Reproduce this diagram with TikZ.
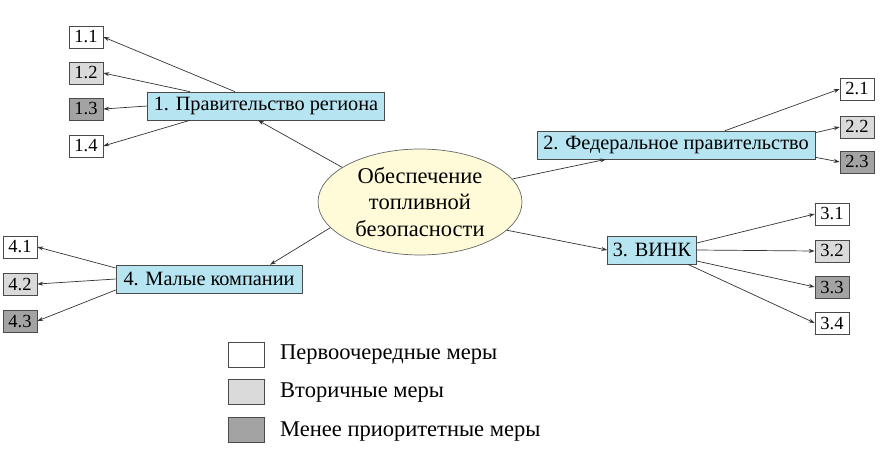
\documentclass[tikz,border=0pt]{standalone}
\usepackage{fontspec}
\setmainfont{Liberation Serif}
\usetikzlibrary{arrows.meta,calc,shapes.geometric}
\definecolor{bluefill}{HTML}{B6E4F1}
\definecolor{ellfill}{HTML}{FFFBD9}
\definecolor{lightg}{HTML}{DADADA}
\definecolor{darkg}{HTML}{A3A3A3}
\definecolor{edge}{HTML}{4A4A4A}
\definecolor{lineC}{HTML}{333333}
\tikzset{
  mainbox/.style={draw=edge, line width=0.6pt, fill=bluefill, inner sep=0pt, minimum height=28pt, font=\fontsize{20.3}{24}\selectfont},
  smallbox/.style={draw=edge, line width=0.6pt, inner sep=0pt, minimum width=34pt, minimum height=22pt, font=\fontsize{18.5}{20}\selectfont},
  legbox/.style={draw=edge, line width=0.6pt, inner sep=0pt, minimum width=36pt, minimum height=25pt},
  legtext/.style={anchor=west, inner sep=0pt, font=\fontsize{22.5}{26}\selectfont},
  conn/.style={draw=lineC, line width=0.7pt, -{Stealth[length=6pt,width=4pt]}},
  prio1/.style={fill=white},
  prio2/.style={fill=lightg},
  prio3/.style={fill=darkg}
}
\begin{document}
\begin{tikzpicture}[x=1pt,y=-1pt]
\useasboundingbox (0,0) rectangle (882,450);
% centre
\node[ellipse, draw=black!60, line width=0.7pt, fill=ellfill, minimum width=204pt, minimum height=106pt, inner sep=0pt, align=center, font=\fontsize{22.5}{26.5}\selectfont] (e) at (420,202) {Обеспечение\\топливной\\безопасности};
% main boxes
\node[mainbox, minimum width=237pt] (b1) at (266,106) {1. Правительство региона};
\node[mainbox, minimum width=278pt] (b2) at (676,145) {2. Федеральное правительство};
\node[mainbox, minimum width=89pt] (b3) at (652,250) {3. ВИНК};
\node[mainbox, minimum width=186pt] (b4) at (209,279) {4. Малые компании};
% small boxes
\node[smallbox, prio1] (n11) at (86,37) {1.1};
\node[smallbox, prio2] (n12) at (86,73) {1.2};
\node[smallbox, prio3] (n13) at (86,109) {1.3};
\node[smallbox, prio1] (n14) at (86,146) {1.4};
\node[smallbox, prio1] (n21) at (857,89) {2.1};
\node[smallbox, prio2] (n22) at (857,127) {2.2};
\node[smallbox, prio3] (n23) at (857,162) {2.3};
\node[smallbox, prio1] (n31) at (832,214) {3.1};
\node[smallbox, prio2] (n32) at (832,251) {3.2};
\node[smallbox, prio3] (n33) at (832,287) {3.3};
\node[smallbox, prio1] (n34) at (832,323) {3.4};
\node[smallbox, prio1] (n41) at (20,247) {4.1};
\node[smallbox, prio2] (n42) at (20,284) {4.2};
\node[smallbox, prio3] (n43) at (20,321) {4.3};
% connectors
\draw[conn] (e.156) -- ([xshift=-8pt]b1.south);
\draw[conn] ([xshift=-31pt]b1.north) -- (n11.east);
\draw[conn] ([xshift=-76pt]b1.north) -- (n12.east);
\draw[conn] (b1.west) -- (n13.east);
\draw[conn] ([xshift=-76pt]b1.south) -- (n14.east);
\draw[conn] (e.14) -- ([xshift=-70pt]b2.south);
\draw[conn] ([xshift=49pt]b2.north) -- (n21.west);
\draw[conn] ([yshift=-2pt]b2.north east) -- (n22.west);
\draw[conn] ([yshift=2pt]b2.south east) -- (n23.west);
\draw[conn] (e.-18) -- (b3.west);
\draw[conn] ([yshift=7pt]b3.east) -- (n31.west);
\draw[conn] (b3.east) -- (n32.west);
\draw[conn] ([yshift=-11pt]b3.east) -- (n33.west);
\draw[conn] ([xshift=-9pt]b3.south east) -- (n34.west);
\draw[conn] (e.196) -- ([xshift=61pt]b4.north);
\draw[conn] ([yshift=11pt]b4.west) -- (n41.east);
\draw[conn] (b4.west) -- (n42.east);
\draw[conn] ([yshift=-11pt]b4.west) -- (n43.east);
% legend
\node[legbox, prio1] (l1) at (246,355) {};
\node[legbox, prio2] (l2) at (246,392) {};
\node[legbox, prio3] (l3) at (246,430) {};
\node[legtext] (t1) at (280,355) {Первоочередные меры};
\node[legtext] (t2) at (280,393) {Вторичные меры};
\node[legtext] (t3) at (280,432) {Менее приоритетные меры};
\end{tikzpicture}
\end{document}
